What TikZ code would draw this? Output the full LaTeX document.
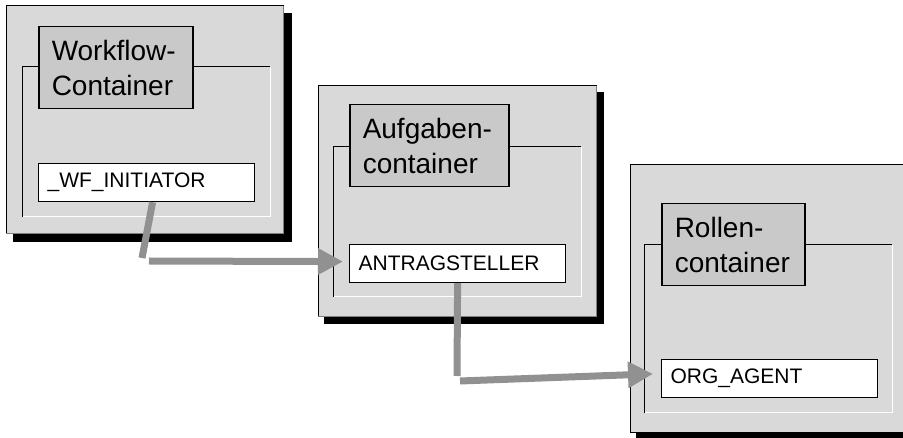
\documentclass[tikz,border=0pt]{standalone}
\usepackage{fontspec}
\setmainfont{Liberation Sans}
\usetikzlibrary{arrows.meta,positioning}
\definecolor{boxgray}{gray}{0.85}
\definecolor{titlegray}{gray}{0.79}
\definecolor{linkgray}{gray}{0.57}
\begin{document}
\begin{tikzpicture}[x=1pt,y=-1pt,
  outerbox/.style={fill=boxgray,draw=black,line width=1pt},
  titlebox/.style={draw=black,fill=titlegray,line width=1.5pt,inner xsep=13pt,inner ysep=0pt,
    minimum height=82pt,align=left,anchor=north west,font=\fontsize{28}{35}\selectfont},
  fieldbox/.style={draw=black,fill=white,line width=1.2pt,text width=198pt,inner xsep=9pt,
    minimum height=38pt,align=left,anchor=north west,font=\fontsize{21}{24}\selectfont},
  link/.style={draw=linkgray,line width=7pt},
  tip/.style={-{Triangle[length=25pt,width=25pt]}}]
\clip (0,0) rectangle (903,438);
\useasboundingbox (0,0) rectangle (903,438);
%workflow container
\fill (13,13) rectangle (292,242);
\draw[outerbox] (6,6) rectangle (283,234);
\draw[gray,line width=1pt] (283,6) -- (283,234) -- (6,234);
\draw[white,line width=1pt] (270,67) -- (270,217) -- (22,217);
\draw[line width=1pt] (22,217) -- (22,67) -- (270,67);
\node[titlebox,text width=128pt] (wfc) at (38,26) {Workflow-\\Container};
\node[fieldbox] (wfinit) at (38,163) {\_WF\_INITIATOR};
%aufgabencontainer
\fill (324,92) rectangle (604,324);
\draw[outerbox] (318,86) rectangle (596,317);
\draw[gray,line width=1pt] (596,86) -- (596,317) -- (318,317);
\draw[white,line width=1pt] (581,147) -- (581,297) -- (333,297);
\draw[line width=1pt] (333,297) -- (333,147) -- (581,147);
\node[titlebox,text width=133pt] (afc) at (349,104) {Aufgaben-\\container};
\node[fieldbox] (antrag) at (349,244) {ANTRAGSTELLER};
%rollencontainer
\fill (636,171) rectangle (915,441);
\draw[outerbox] (630,165) rectangle (910,433);
\draw[white,line width=1pt] (892,245) -- (892,413) -- (644,413);
\draw[line width=1pt] (644,413) -- (644,245) -- (892,245);
\node[titlebox,text width=117pt] (roc) at (661,203) {Rollen-\\container};
\node[fieldbox] (orgagent) at (661,359) {ORG\_AGENT};
%connectors
\coordinate (k1) at (142,258);
\coordinate (k2) at (149,261);
\draw[link] ([xshift=6pt]wfinit.south) -- (k1);
\draw[link,tip,shorten >=6pt] (k2) -- ([yshift=2pt]antrag.west);
\coordinate (k3) at (457,376);
\coordinate (k4) at (460,381);
\draw[link] (antrag.south) -- (k3);
\draw[link,tip,shorten >=8pt] (k4) -- ([yshift=5pt]orgagent.west);
\end{tikzpicture}
\end{document}
